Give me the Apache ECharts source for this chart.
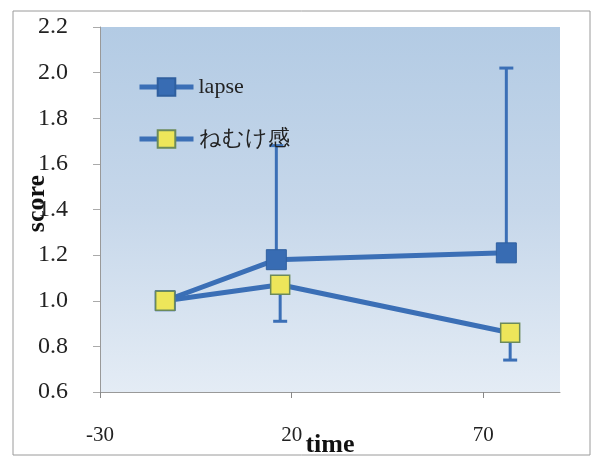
<!DOCTYPE html>
<html><head><meta charset="utf-8">
<script src="https://cdn.jsdelivr.net/npm/echarts@6/dist/echarts.min.js"></script>
<style>html,body{margin:0;padding:0;background:#fff}#c{width:597px;height:458px}</style>
</head><body><div id="c"></div>
<script>
const seriesNames = ['lapse', 'ねむけ感'];
const lapseX = [-13, 16, 76];
const lapseY = [1.0, 1.18, 1.21];
const lapseErrHigh = [1.0, 1.68, 2.02];
const nemukeX = [-13, 17, 77];
const nemukeY = [1.0, 1.07, 0.86];
const nemukeErrLow = [1.0, 0.91, 0.74];
const xTicks = [-30, 20, 70];
const yTicks = [0.6, 0.8, 1.0, 1.2, 1.4, 1.6, 1.8, 2.0, 2.2];

const lineColor = '#3b6fb6';
const serif = '"Liberation Serif","DejaVu Serif",serif';

function errData(xs, ys, es) {
  return xs.map((x, i) => [x, ys[i], es[i]]);
}
function errRender(params, api) {
  const x = api.value(0), y = api.value(1), e = api.value(2);
  if (Math.abs(e - y) < 1e-9) return null;
  const p0 = api.coord([x, y]);
  const p1 = api.coord([x, e]);
  const cap = 7;
  return {
    type: 'group',
    children: [
      {type: 'line', shape: {x1: p0[0], y1: p0[1], x2: p1[0], y2: p1[1]}, style: {stroke: lineColor, lineWidth: 3}},
      {type: 'line', shape: {x1: p1[0] - cap, y1: p1[1], x2: p1[0] + cap, y2: p1[1]}, style: {stroke: lineColor, lineWidth: 3}}
    ]
  };
}

const chart = echarts.init(document.getElementById('c'), null, {renderer: 'canvas'});
chart.setOption({
  animation: false,
  backgroundColor: '#fff',
  graphic: [{type: 'rect', shape: {x: 13, y: 11, width: 577, height: 444}, style: {fill: 'none', stroke: '#9a9a9a', lineWidth: 1}, z: -10}],
  grid: {
    left: 100, right: 37, top: 27, bottom: 66, show: true, borderWidth: 0,
    outerBoundsMode: 'none', containLabel: false,
    backgroundColor: {type: 'linear', x: 0, y: 0, x2: 0, y2: 1, colorStops: [
      {offset: 0, color: '#b3cbe4'}, {offset: 0.5, color: '#c6d7ea'}, {offset: 1, color: '#e4ecf5'}]}
  },
  legend: {
    orient: 'vertical', left: 132, top: 71, itemGap: 30, itemWidth: 54, itemHeight: 22,
    textStyle: {fontFamily: serif, fontSize: 22, color: '#222'},
    lineStyle: {width: 5},
    data: seriesNames
  },
  xAxis: {
    type: 'value', min: -30, max: 90, interval: 50,
    name: 'time', nameLocation: 'middle', nameGap: 40, nameMoveOverlap: false,
    nameTextStyle: {fontFamily: serif, fontSize: 26, fontWeight: 'bold', color: '#111'},
    axisLine: {show: true, onZero: false, lineStyle: {color: '#999', width: 1}},
    axisTick: {show: true, inside: false, length: 6, lineStyle: {color: '#888'}},
    axisLabel: {margin: 33, fontFamily: serif, fontSize: 21, color: '#222', showMaxLabel: false,
      formatter: v => xTicks.includes(v) ? String(v) : ''},
    splitLine: {show: false}
  },
  yAxis: {
    type: 'value', min: 0.6, max: 2.2, interval: 0.2,
    name: 'score', nameLocation: 'middle', nameGap: 50, nameRotate: 90, nameMoveOverlap: false,
    nameTextStyle: {fontFamily: serif, fontSize: 26, fontWeight: 'bold', color: '#111', padding: [0, 0, 0, 12]},
    axisLine: {show: true, onZero: false, lineStyle: {color: '#999', width: 1}},
    axisTick: {show: true, length: 7, lineStyle: {color: '#aaa'}},
    axisLabel: {margin: 32, fontFamily: serif, fontSize: 24, color: '#222',
      formatter: v => { const t = yTicks.find(k => Math.abs(k - v) < 1e-6); return t !== undefined ? t.toFixed(1) : ''; }},
    splitLine: {show: false}
  },
  series: [
    {type: 'custom', renderItem: errRender, data: errData(lapseX, lapseY, lapseErrHigh), z: 1, silent: true, encode: {x: 0, y: [1, 2]}},
    {type: 'custom', renderItem: errRender, data: errData(nemukeX, nemukeY, nemukeErrLow), z: 1, silent: true, encode: {x: 0, y: [1, 2]}},
    {name: seriesNames[0], type: 'line', data: lapseX.map((x, i) => [x, lapseY[i]]), z: 3,
      symbol: 'rect', symbolSize: 20,
      lineStyle: {color: lineColor, width: 5},
      itemStyle: {color: '#386cb3', borderColor: '#2f5f9f', borderWidth: 1}},
    {name: seriesNames[1], type: 'line', data: nemukeX.map((x, i) => [x, nemukeY[i]]), z: 4,
      symbol: 'rect', symbolSize: 19,
      lineStyle: {color: lineColor, width: 5},
      itemStyle: {color: '#ede65a', borderColor: '#6c8a5a', borderWidth: 1.5}}
  ]
});
</script></body></html>
